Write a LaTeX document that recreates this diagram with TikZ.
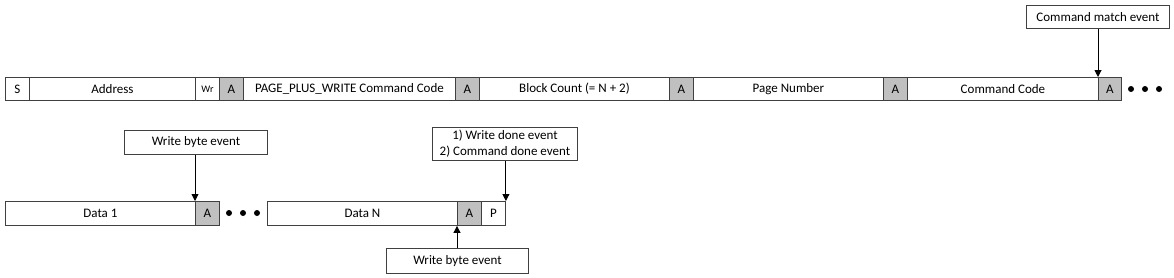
\documentclass[tikz,border=0pt]{standalone}
\usepackage{fontspec}
\setmainfont{Carlito}
\usetikzlibrary{arrows.meta}
\definecolor{ackgray}{HTML}{C0C0C0}
\definecolor{edge}{HTML}{404040}
\tikzset{
  fld/.style={draw=edge, line width=0.9pt, minimum height=23pt, inner sep=0pt, anchor=north west, font=\fontsize{13}{15}\selectfont},
  ack/.style={fld, fill=ackgray},
  evt/.style={draw=edge, line width=0.9pt, inner sep=0pt, anchor=north west, align=center, font=\fontsize{13}{16}\selectfont},
  evarrow/.style={line width=0.9pt, -{Triangle[length=7pt,width=7pt]}},
  dotc/.style={circle, fill=black, inner sep=0pt, minimum size=6pt}
}
\begin{document}
\begin{tikzpicture}[x=1pt,y=-1pt]
\useasboundingbox (0,0) rectangle (1174,277);
% top row
\node[fld, minimum width=24pt] (s) at (5,77) {S};
\node[fld, minimum width=166pt] (addr) at (29,77) {Address};
\node[fld, minimum width=24pt, font=\fontsize{10}{12}\selectfont] (wr) at (195,77) {Wr};
\node[ack, minimum width=24pt] (a1) at (219,77) {A};
\node[fld, minimum width=212pt] (ppw) at (243,77) {PAGE\_PLUS\_WRITE Command Code};
\node[ack, minimum width=24pt] (a2) at (455,77) {A};
\node[fld, minimum width=190pt] (bc) at (479,77) {Block Count (= N + 2)};
\node[ack, minimum width=24pt] (a3) at (669,77) {A};
\node[fld, minimum width=190pt] (pn) at (693,77) {Page Number};
\node[ack, minimum width=24pt] (a4) at (883,77) {A};
\node[fld, minimum width=191pt] (cc) at (907,77) {Command Code};
\node[ack, minimum width=23pt] (a5) at (1098,77) {A};
\node[dotc] (d1) at (1131,89) {};
\node[dotc] (d2) at (1145,89) {};
\node[dotc] (d3) at (1159,89) {};
\node[evt, minimum width=143pt, minimum height=23pt] (cme) at (1026,5) {Command match event};
\draw[evarrow] (cme.south -| a5.north west) -- (a5.north west);
% bottom row
\node[fld, minimum width=190pt, minimum height=24pt] (d1b) at (5,201) {Data 1};
\node[ack, minimum width=24pt, minimum height=24pt] (a6) at (195,201) {A};
\node[dotc] (e1) at (229,213) {};
\node[dotc] (e2) at (243,213) {};
\node[dotc] (e3) at (257,213) {};
\node[fld, minimum width=190pt, minimum height=24pt] (dn) at (267,201) {Data N};
\node[ack, minimum width=24pt, minimum height=24pt] (a7) at (457,201) {A};
\node[fld, minimum width=24pt, minimum height=24pt] (p) at (481,201) {P};
\node[evt, minimum width=143pt, minimum height=24pt] (wbe1) at (124,130) {Write byte event};
\node[evt, minimum width=145pt, minimum height=33pt] (wde) at (432,127) {1) Write done event\\2) Command done event};
\node[evt, minimum width=142pt, minimum height=25pt] (wbe2) at (386,248) {Write byte event};
\draw[evarrow] (wbe1.south -| a6.north west) -- (a6.north west);
\draw[evarrow] (wde.south -| p.north east) -- (p.north east);
\draw[evarrow] (wbe2.north -| a7.south west) -- (a7.south west);
\end{tikzpicture}
\end{document}
